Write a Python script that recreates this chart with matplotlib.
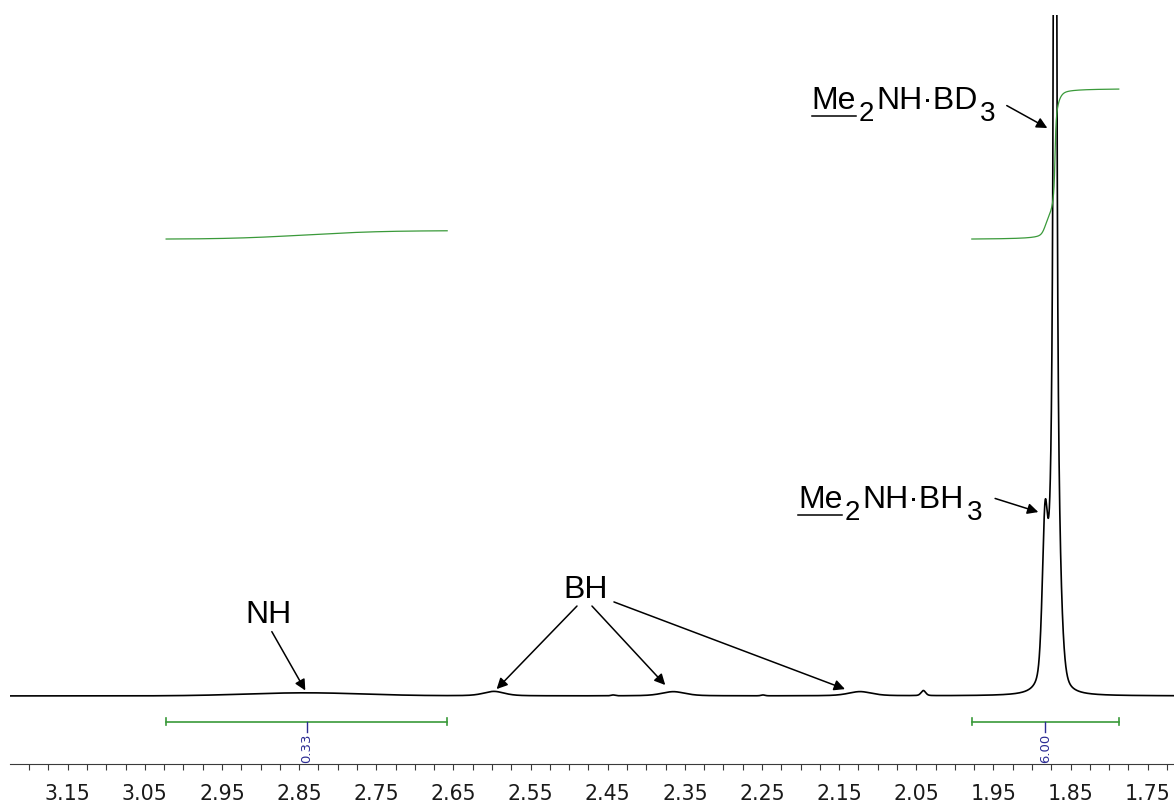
import numpy as np
import matplotlib
matplotlib.use("Agg")
import matplotlib.pyplot as plt
from matplotlib.lines import Line2D
from matplotlib.ticker import MultipleLocator
from matplotlib.transforms import IdentityTransform

# chemical shift window (ppm, drawn high -> low) and intensity window
ppm_left, ppm_right = 3.2248, 1.7159
y_min, y_max = -10.0, 100.0

tick_ppm = [3.15, 3.05, 2.95, 2.85, 2.75, 2.65, 2.55, 2.45, 2.35, 2.25, 2.15, 2.05, 1.95, 1.85, 1.75]
tick_labels = ["3.15", "3.05", "2.95", "2.85", "2.75", "2.65", "2.55", "2.45",
               "2.35", "2.25", "2.15", "2.05", "1.95", "1.85", "1.75"]

# resonances: NH (broad), BH quartet lines, small lines, Me2NH.BH3 / Me2NH.BD3 methyls
nh_ppm = 2.842
bh_ppm = [2.5975, 2.3649, 2.1229]
small_ppm = [2.4431, 2.2487, 2.0408]
me_bh3_ppm = 1.8831
me_bd3_ppm = 1.8701

peak_ppm = [nh_ppm, bh_ppm[0], bh_ppm[1], bh_ppm[2], small_ppm[0], small_ppm[1], small_ppm[2],
            me_bh3_ppm, me_bd3_ppm, me_bd3_ppm]
peak_height = [0.45, 0.66, 0.62, 0.62, 0.12, 0.12, 0.75, 23.5, 400.0, 22.0]
peak_hwhm = [0.09, 0.016, 0.018, 0.018, 0.003, 0.003, 0.0035, 0.0043, 0.00117, 0.00687]
peak_eta = [0.0, 0.5, 0.5, 0.5, 0.0, 0.0, 0.3, 0.5, 1.0, 0.0]   # Lorentzian fraction

# integrated regions (ppm) and their values
integral_ranges = [(3.0224, 2.6581), (1.9780, 1.7875)]
integral_values = [0.33, 6.00]
integral_base = 67.1      # where the integral traces start
integral_scale = 3.67     # intensity units per integral unit
bar_y = -3.8


def pseudo_voigt(x, x0, h, w, eta):
    u = (x - x0) / w
    return h * (eta / (1 + u ** 2) + (1 - eta) * np.exp(-np.log(2) * u ** 2))


ppm = np.linspace(3.23, 1.70, 40001)
spec = np.zeros_like(ppm)
for x0, h, w, eta in zip(peak_ppm, peak_height, peak_hwhm, peak_eta):
    spec += pseudo_voigt(ppm, x0, h, w, eta)

fig = plt.figure(figsize=(11.74, 8.03), dpi=100)
ax = fig.add_axes([10 / 1174, 38 / 803, 1164 / 1174, 749 / 803])
ax.set_xlim(ppm_left, ppm_right)
ax.set_ylim(y_min, y_max)

ax.plot(ppm, spec, color="black", lw=1.2)

green = "#3a9a3a"
navy = "#2c2c94"
for (a, b), val in zip(integral_ranges, integral_values):
    m = (ppm <= a) & (ppm >= b)
    cum = np.cumsum(spec[m])
    cum = (cum - cum[0]) / (cum[-1] - cum[0])
    ax.plot(ppm[m], integral_base + val * integral_scale * cum, color=green, lw=0.9)
    # integration bar with end caps and value
    ax.plot([a, b], [bar_y, bar_y], color=green, lw=1.2)
    for e in (a, b):
        ax.plot([e, e], [bar_y - 0.5, bar_y + 0.5], color=green, lw=1.2)
    mid = (a + b) / 2
    ax.plot([mid, mid], [bar_y, bar_y - 1.5], color=navy, lw=1.0)
    ax.text(mid, bar_y - 1.6, f"{val:.2f}", rotation=90, ha="center", va="top",
            fontsize=9.5, color=navy, family=["Liberation Sans Narrow", "DejaVu Sans"])

# axis styling: only the ppm scale at the bottom
for side in ("top", "left", "right"):
    ax.spines[side].set_visible(False)
ax.spines["bottom"].set_color("#3a3a3a")
ax.spines["bottom"].set_linewidth(0.8)
ax.set_yticks([])
ax.set_xticks(tick_ppm)
ax.set_xticklabels(tick_labels)
ax.xaxis.set_minor_locator(MultipleLocator(0.025))
ax.tick_params(axis="x", which="both", direction="out", length=4.3, width=0.8,
               color="#3a3a3a", labelsize=14.8, pad=9.5, labelcolor="#1a1a1a")

arrow = dict(arrowstyle="-|>", color="black", lw=1.1, mutation_scale=16, shrinkA=0, shrinkB=0)
label_font = dict(family="Liberation Sans", color="black")

# NH
ax.text(2.9200, 10.84, "NH", fontsize=23, ha="left", va="baseline", **label_font)
ax.annotate("", xy=(nh_ppm, 0.8), xytext=(2.8854, 9.44), arrowprops=arrow)

# BH quartet
ax.text(2.5079, 14.54, "BH", fontsize=23, ha="left", va="baseline", **label_font)
bh_tail = [(2.4898, 13.2), (2.4704, 13.2), (2.4419, 13.8)]
bh_tip = [(bh_ppm[0] - 0.0035, 1.0), (bh_ppm[1] + 0.0105, 1.6), (bh_ppm[2] + 0.0195, 1.0)]
for tail, tip in zip(bh_tail, bh_tip):
    ax.annotate("", xy=tip, xytext=tail, arrowprops=arrow)


def formula(x, y, parts, size=23, sub_size=20, sub_drop=12, ul_drop=8, gap=2.5):
    """Write a formula piece by piece: plain, subscript ("sub") or underlined ("ul")."""
    r = fig.canvas.get_renderer()
    x0, y0 = ax.transData.transform((x, y))
    cur = x0
    for s, kind in parts:
        sub = kind == "sub"
        t = fig.text(cur, y0 - (sub_drop if sub else 0), s, transform=IdentityTransform(),
                     fontsize=sub_size if sub else size, ha="left", va="baseline", **label_font)
        bb = t.get_window_extent(r)
        if kind == "ul":
            fig.add_artist(Line2D([bb.x0, bb.x1], [y0 - ul_drop] * 2, transform=IdentityTransform(),
                                  color="black", lw=1.1))
        cur = bb.x1 + gap


formula(2.2033, 27.71, [("Me", "ul"), ("2", "sub"), ("NH·BH", ""), ("3", "sub")])
ax.annotate("", xy=(1.8918, 27.0), xytext=(1.9478, 29.0), arrowprops=arrow)

formula(2.1855, 86.30, [("Me", "ul"), ("2", "sub"), ("NH·BD", ""), ("3", "sub")])
ax.annotate("", xy=(1.8801, 83.4), xytext=(1.9327, 86.7), arrowprops=arrow)

fig.savefig("out.png", dpi=100)
